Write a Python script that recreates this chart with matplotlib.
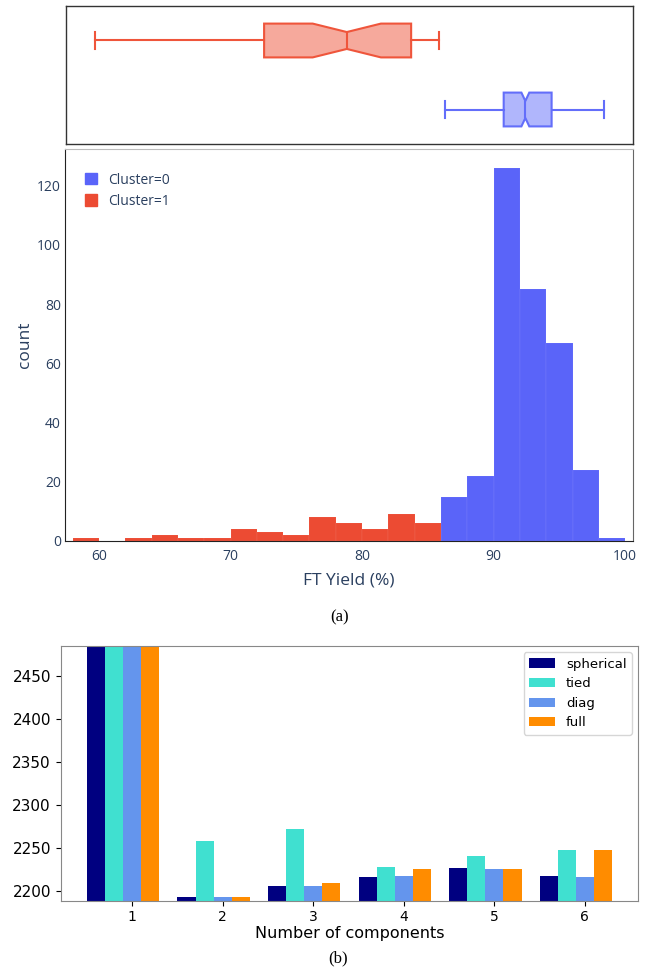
import matplotlib
matplotlib.use("Agg")
import matplotlib.pyplot as plt
from matplotlib.patches import Patch

# --- (a) histogram of FT yield, two clusters ---
red_edges = [58, 60, 62, 64, 66, 68, 70, 72, 74, 76, 78, 80, 82, 84]
red_counts = [1, 0, 1, 2, 1, 1, 4, 3, 2, 8, 6, 4, 9, 6]
blue_edges = [86, 88, 90, 92, 94, 96, 98]
blue_counts = [15, 22, 126, 85, 67, 24, 1]
bin_width = 2

# box plot summaries (marginal)
red_box = dict(whislo=59.65, q1=72.5, med=78.8, q3=83.7, whishi=85.8,
               cilo=76.2, cihi=81.4, fliers=[])
blue_box = dict(whislo=86.3, q1=90.75, med=92.4, q3=94.4, whishi=98.4,
                cilo=92.1, cihi=92.7, fliers=[])

# --- (b) BIC per number of components ---
n_components = [1, 2, 3, 4, 5, 6]
cv_types = ["spherical", "tied", "diag", "full"]
bic_spherical = [2485, 2193.4, 2205.8, 2216.6, 2227.5, 2217.8]
bic_tied = [2485, 2258, 2271.7, 2228, 2241, 2248]
bic_diag = [2485, 2193.4, 2206, 2217.4, 2225.6, 2217]
bic_full = [2485, 2193.4, 2209, 2225.6, 2225.6, 2247.3]
bar_colors = ["navy", "turquoise", "cornflowerblue", "darkorange"]

PL_BLUE = "#636EFA"
PL_RED = "#EF553B"
HIST_BLUE = "#5A64F9"
HIST_RED = "#EC4B33"
PL_TEXT = "#2a3f5f"
PL_FONT = ["Open Sans", "DejaVu Sans"]

W, H = 652, 976
fig = plt.figure(figsize=(W / 100, H / 100), dpi=100)


def px_axes(left, top, right, bottom):
    return fig.add_axes([left / W, 1 - bottom / H, (right - left) / W, (bottom - top) / H])


xlim = (57.41, 100.6)

# marginal box plot
ax_box = px_axes(66, 6, 633, 144)
bp = ax_box.bxp([blue_box, red_box], positions=[0, 1], widths=0.49,
                orientation="horizontal", shownotches=True, patch_artist=True,
                showfliers=False)
for i, c in enumerate([PL_BLUE, PL_RED]):
    bp["boxes"][i].set(facecolor=matplotlib.colors.to_rgba(c, 0.5), edgecolor=c, linewidth=1.5)
    bp["medians"][i].set(color=c, linewidth=1.5)
    for ln in bp["whiskers"][2 * i:2 * i + 2] + bp["caps"][2 * i:2 * i + 2]:
        ln.set(color=c, linewidth=1.5)
ax_box.set_xlim(*xlim)
ax_box.set_ylim(-0.5, 1.5)
ax_box.set_xticks([])
ax_box.set_yticks([])
for s in ax_box.spines.values():
    s.set_color("#333333")
    s.set_linewidth(1.0)

# histogram
ax_hist = px_axes(65, 149, 633, 541)
ax_hist.bar(blue_edges, blue_counts, width=bin_width, align="edge",
            color=HIST_BLUE, edgecolor=(1, 1, 1, 0.15), linewidth=0.3, label="Cluster=0")
ax_hist.bar(red_edges, red_counts, width=bin_width, align="edge",
            color=HIST_RED, edgecolor=(1, 1, 1, 0.15), linewidth=0.3, label="Cluster=1")
ax_hist.set_xlim(*xlim)
ax_hist.set_ylim(0, 132.4)
ax_hist.set_xticks([60, 70, 80, 90, 100])
ax_hist.set_yticks([0, 20, 40, 60, 80, 100, 120])
ax_hist.tick_params(length=0, labelsize=10, labelcolor=PL_TEXT, pad=3)
ax_hist.tick_params(axis="x", pad=6)
for lab in ax_hist.get_xticklabels() + ax_hist.get_yticklabels():
    lab.set_family(PL_FONT)
ax_hist.set_xlabel("FT Yield (%)", fontsize=12.5, color=PL_TEXT, family=PL_FONT, labelpad=6)
ax_hist.set_ylabel("count", fontsize=12.5, color=PL_TEXT, family=PL_FONT, labelpad=3)
ax_hist.spines["left"].set_color("#222222")
ax_hist.spines["bottom"].set_color("#222222")
ax_hist.spines["top"].set_color("#bbbbbb")
ax_hist.spines["right"].set_color("#666666")
handles = [Patch(color=HIST_BLUE), Patch(color=HIST_RED)]
ax_hist.legend(handles, ["Cluster=0", "Cluster=1"], loc="upper left",
               bbox_to_anchor=(0.035, 0.94), frameon=False, borderaxespad=0,
               borderpad=0, handlelength=0.9, handleheight=0.9,
               handletextpad=0.8, labelspacing=0.45,
               prop={"family": PL_FONT, "size": 10}, labelcolor=PL_TEXT)

fig.text(340 / W, 1 - 617 / H, "(a)", ha="center", va="center",
         family="Liberation Serif", fontsize=12)

# BIC bars
ax_bic = px_axes(60.7, 645.7, 638.3, 900.7)
series = [bic_spherical, bic_tied, bic_diag, bic_full]
bars = []
for i, (vals, color) in enumerate(zip(series, bar_colors)):
    xpos = [n + 0.2 * (i - 2) for n in n_components]
    bars.append(ax_bic.bar(xpos, vals, width=0.2, color=color))
ax_bic.set_xticks(n_components)
ax_bic.set_ylim(2189, 2485)
ax_bic.tick_params(axis="y", labelsize=11)
ax_bic.tick_params(axis="x", labelsize=10)
ax_bic.set_xlabel("Number of components", fontsize=11.5, labelpad=1)
for s in ax_bic.spines.values():
    s.set_color("#888888")
ax_bic.legend([b[0] for b in bars], cv_types, loc="upper right", fontsize=9.5)

fig.text(338 / W, 1 - 958 / H, "(b)", ha="center", va="center",
         family="Liberation Serif", fontsize=12)

fig.savefig("out.png", dpi=100)
